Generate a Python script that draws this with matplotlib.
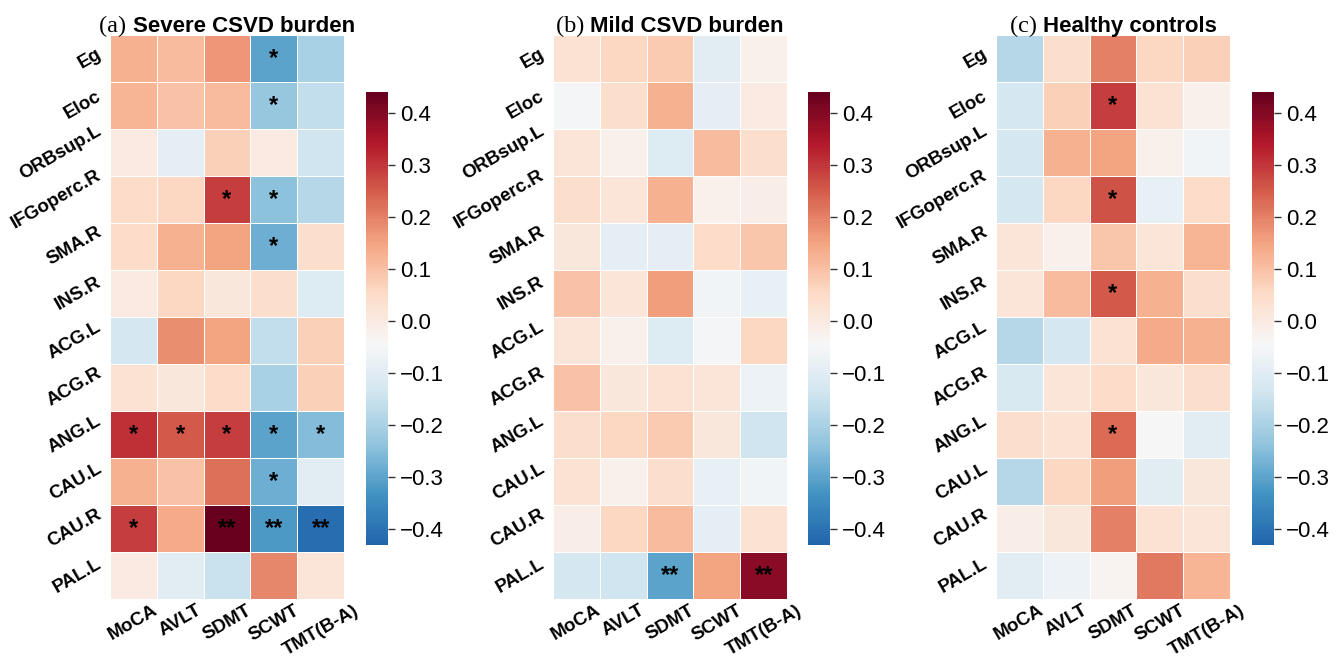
import numpy as np
import matplotlib
matplotlib.use('Agg')
import matplotlib.pyplot as plt
import matplotlib.transforms as mtransforms
from matplotlib.colors import ListedColormap
import seaborn as sns

regions = ['Eg', 'Eloc', 'ORBsup.L', 'IFGoperc.R', 'SMA.R', 'INS.R',
           'ACG.L', 'ACG.R', 'ANG.L', 'CAU.L', 'CAU.R', 'PAL.L']
tests = ['MoCA', 'AVLT', 'SDMT', 'SCWT', 'TMT(B-A)']

# correlation coefficients, rows = regions, columns = tests
severe = [
    [0.13, 0.11, 0.17, -0.30, -0.20],
    [0.12, 0.10, 0.11, -0.23, -0.16],
    [0.00, -0.09, 0.07, 0.00, -0.14],
    [0.05, 0.06, 0.29, -0.24, -0.18],
    [0.05, 0.13, 0.15, -0.28, 0.04],
    [0.00, 0.06, 0.01, 0.04, -0.11],
    [-0.13, 0.18, 0.15, -0.16, 0.07],
    [0.03, 0.01, 0.05, -0.20, 0.07],
    [0.31, 0.25, 0.29, -0.30, -0.25],
    [0.13, 0.10, 0.22, -0.28, -0.10],
    [0.29, 0.14, 0.44, -0.32, -0.41],
    [0.00, -0.10, -0.15, 0.19, 0.02],
]
mild = [
    [0.03, 0.06, 0.08, -0.10, -0.02],
    [-0.05, 0.04, 0.13, -0.09, 0.00],
    [0.02, -0.02, -0.11, 0.11, 0.04],
    [0.04, 0.02, 0.13, -0.02, -0.01],
    [0.01, -0.09, -0.09, 0.05, 0.09],
    [0.10, 0.02, 0.16, -0.06, -0.08],
    [0.02, -0.02, -0.11, -0.05, 0.06],
    [0.10, 0.01, 0.03, 0.02, -0.07],
    [0.04, 0.06, 0.08, 0.01, -0.14],
    [0.03, -0.02, 0.04, -0.08, -0.06],
    [-0.01, 0.06, 0.11, -0.09, 0.03],
    [-0.13, -0.14, -0.30, 0.15, 0.39],
]
healthy = [
    [-0.18, 0.04, 0.20, 0.06, 0.07],
    [-0.13, 0.07, 0.29, 0.03, -0.02],
    [-0.13, 0.13, 0.15, -0.02, -0.06],
    [-0.13, 0.06, 0.26, -0.08, 0.05],
    [0.02, -0.02, 0.09, 0.02, 0.12],
    [0.02, 0.11, 0.25, 0.13, 0.04],
    [-0.18, -0.13, 0.03, 0.14, 0.13],
    [-0.12, 0.02, 0.05, 0.01, 0.04],
    [0.04, 0.03, 0.23, -0.04, -0.10],
    [-0.18, 0.06, 0.16, -0.10, 0.01],
    [-0.01, 0.01, 0.20, 0.03, 0.02],
    [-0.10, -0.07, -0.03, 0.21, 0.12],
]

# significance marks
severe_sig = [
    ['', '', '', '*', ''],
    ['', '', '', '*', ''],
    ['', '', '', '', ''],
    ['', '', '*', '*', ''],
    ['', '', '', '*', ''],
    ['', '', '', '', ''],
    ['', '', '', '', ''],
    ['', '', '', '', ''],
    ['*', '*', '*', '*', '*'],
    ['', '', '', '*', ''],
    ['*', '', '**', '**', '**'],
    ['', '', '', '', ''],
]
mild_sig = [[''] * 5 for _ in range(11)] + [['', '', '**', '', '**']]
healthy_sig = [
    ['', '', '', '', ''],
    ['', '', '*', '', ''],
    ['', '', '', '', ''],
    ['', '', '*', '', ''],
    ['', '', '', '', ''],
    ['', '', '*', '', ''],
    ['', '', '', '', ''],
    ['', '', '', '', ''],
    ['', '', '*', '', ''],
    ['', '', '', '', ''],
    ['', '', '', '', ''],
    ['', '', '', '', ''],
]

panels = [('(a)', 'Severe CSVD burden', severe, severe_sig),
          ('(b)', 'Mild CSVD burden', mild, mild_sig),
          ('(c)', 'Healthy controls', healthy, healthy_sig)]

plt.rcParams['font.family'] = ['Liberation Sans', 'DejaVu Sans']

# RdBu_r without its darkest blue end
cmap = ListedColormap(plt.get_cmap('RdBu_r')(np.linspace(0.1, 1.0, 256)))
vmin, vmax = -0.43, 0.44

W, H = 1336, 662
fig = plt.figure(figsize=(W / 100, H / 100), dpi=100)

heat_x = [110, 553, 996]
cbar_x = [366, 808, 1252]
heat_w, cbar_w = 234, 22
heat_top, heat_bot = 35, 599
cbar_top, cbar_bot = 92, 545

for i, (tag, name, vals, sig) in enumerate(panels):
    ax = fig.add_axes([heat_x[i] / W, 1 - heat_bot / H, heat_w / W,
                       (heat_bot - heat_top) / H])
    cax = fig.add_axes([cbar_x[i] / W, 1 - cbar_bot / H, cbar_w / W,
                        (cbar_bot - cbar_top) / H])
    sns.heatmap(np.array(vals), ax=ax, cbar_ax=cax, cmap=cmap,
                vmin=vmin, vmax=vmax, linewidths=0.5, linecolor='white',
                annot=np.array(sig), fmt='',
                annot_kws={'size': 17, 'color': 'black', 'weight': 'bold'},
                xticklabels=tests, yticklabels=regions)
    ax.set_xticklabels(tests, rotation=30, fontsize=13.5, fontweight='bold',
                       ha='center')
    ax.set_yticklabels(regions, rotation=30, fontsize=13.5,
                       fontweight='bold', va='center')
    ax.tick_params(axis='y', length=0, pad=4)
    ax.tick_params(axis='x', length=0, pad=2)

    cax.set_yticks(np.round(np.arange(-0.4, 0.41, 0.1), 1))
    cax.tick_params(labelsize=16, length=5, width=1, color='#333333')

    # mixed-font title: serif tag + bold sans name
    trans = mtransforms.offset_copy(ax.transAxes, fig=fig, x=0, y=3,
                                    units='dots')
    t_name = ax.text(0.5, 1.0, name, transform=trans, ha='left',
                     va='baseline', fontsize=16, fontweight='bold')
    t_tag = ax.text(0.5, 1.0, tag + ' ', transform=trans, ha='left',
                    va='baseline', fontsize=17.5, family='Liberation Serif')
    fig.canvas.draw()
    r = fig.canvas.get_renderer()
    w_name = t_name.get_window_extent(r).width
    w_tag = t_tag.get_window_extent(r).width
    ax_w = ax.get_window_extent(r).width
    start = 0.5 - (w_name + w_tag) / 2 / ax_w
    t_tag.set_x(start)
    t_name.set_x(start + w_tag / ax_w)

fig.savefig('out.png', dpi=100, facecolor='white')
